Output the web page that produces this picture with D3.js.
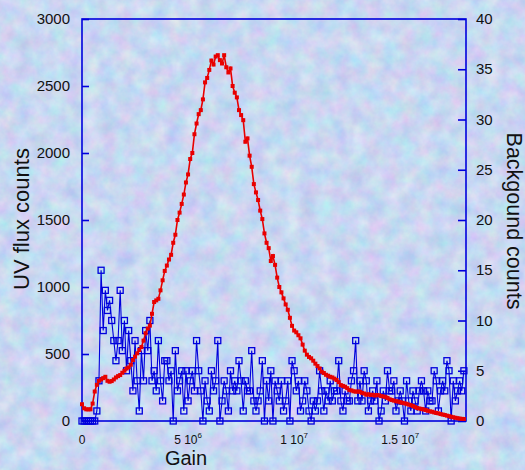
<!DOCTYPE html>
<html lang="en">
<head>
  <meta charset="utf-8">
  <title>UV flux vs Gain</title>
  <style>
    body { margin: 0; }
    text { font-family: "Liberation Sans", Arial, sans-serif; fill: #111; }
  </style>
</head>
<body>
  <div id="chart"></div>

  <script src="https://d3js.org/d3.v7.min.js"></script>
  <script>
    // gain in units of 1e5
    var gain = [
      0,1,2,3,4,5,6,7,8,9,10,11,12,13,14,15,16,17,18,19,
      20,21,22,23,24,25,26,27,28,29,30,31,32,33,34,35,36,37,38,39,
      40,41,42,43,44,45,46,47,48,49,50,51,52,53,54,55,56,57,58,59,
      60,61,62,63,64,65,66,67,68,69,70,71,72,73,74,75,76,77,78,79,
      80,81,82,83,84,85,86,87,88,89,90,91,92,93,94,95,96,97,98,99,
      100,101,102,103,104,105,106,107,108,109,110,111,112,113,114,115,116,117,118,119,
      120,121,122,123,124,125,126,127,128,129,130,131,132,133,134,135,136,137,138,139,
      140,141,142,143,144,145,146,147,148,149,150,151,152,153,154,155,156,157,158,159,
      160,161,162,163,164,165,166,167,168,169,170,171,172,173,174,175,176,177,178,179,180
    ];

    // UV flux counts (left axis)
    var uvFlux = [
      125,95,87,87,87,130,220,270,300,310,
      320,330,300,293,298,310,325,335,343,360,
      375,392,400,420,455,480,505,530,552,600,
      655,690,712,800,888,900,912,975,1050,1120,
      1160,1205,1240,1330,1390,1500,1555,1620,1690,1780,
      1840,1955,2000,2140,2220,2290,2320,2400,2527,2560,
      2620,2690,2660,2720,2730,2693,2668,2730,2640,2601,
      2631,2500,2450,2415,2320,2283,2245,2084,2109,1980,
      1897,1768,1706,1649,1570,1507,1400,1330,1290,1194,
      1231,1165,1070,1000,960,915,870,830,770,710,
      675,662,640,617,570,525,495,478,468,450,
      428,410,392,368,358,345,338,330,325,316,
      306,290,268,262,256,245,232,228,222,219,
      220,218,210,205,196,200,194,196,190,194,
      192,186,183,180,172,162,157,152,148,145,
      140,136,132,128,122,118,112,104,97,93,
      90,86,82,76,72,69,64,60,57,52,
      48,45,40,36,32,28,24,21,18,16,15
    ];

    // background counts (right axis)
    var background = [
      0,0,0,0,0,0,0,1,4,15,
      9,13,11,12,10,8,6,8,13,7,
      10,5,9,6,3,8,4,1,7,4,
      9,7,10,4,5,3,8,4,2,6,
      6,4,5,0,7,3,4,5,1,5,
      2,4,5,3,8,5,3,0,4,2,
      1,5,3,4,8,0,2,4,3,1,
      5,3,4,3,6,4,1,4,3,3,
      7,2,1,2,3,6,0,4,2,5,
      0,4,3,2,4,1,2,4,0,6,
      5,3,4,1,2,4,3,1,0,2,
      1,2,5,3,1,3,2,4,2,3,
      3,6,2,1,3,2,2,4,5,8,
      2,4,2,5,4,1,2,3,2,4,
      0,1,3,2,5,3,3,4,1,2,
      3,2,0,4,2,1,3,2,1,3,
      4,3,1,3,2,2,5,4,1,3,
      4,3,6,5,0,4,2,3,4,3,5
    ];

    var leftTicks = [0, 500, 1000, 1500, 2000, 2500, 3000];
    var rightTicks = [0, 5, 10, 15, 20, 25, 30, 35, 40];
    var xTicks = [
      {v: 0, base: "0", sup: ""},
      {v: 5e6, base: "5 10", sup: "6"},
      {v: 1e7, base: "1 10", sup: "7"},
      {v: 1.5e7, base: "1.5 10", sup: "7"}
    ];

    var width = 525, height = 470;
    var plotL = 82, plotR = 466, plotT = 19, plotB = 421;
    var blue = "#0000dc", red = "#e80000";

    var svg = d3.select("#chart").append("svg")
        .attr("width", width)
        .attr("height", height);

    // mottled pastel background
    var defs = svg.append("defs");
    var f = defs.append("filter").attr("id", "paper")
        .attr("color-interpolation-filters", "sRGB")
        .attr("x", 0).attr("y", 0).attr("width", "100%").attr("height", "100%");
    f.append("feTurbulence")
        .attr("type", "fractalNoise")
        .attr("baseFrequency", 0.06)
        .attr("numOctaves", 4)
        .attr("seed", 7);
    f.append("feColorMatrix")
        .attr("type", "matrix")
        .attr("values", "0.26 0 0 0 0.655  0 0.2 0 0 0.745  0 0 0.08 0 0.905  0 0 0 0 1");

    svg.append("rect")
        .attr("width", width).attr("height", height)
        .attr("fill", "#ccd8f2");
    svg.append("rect")
        .attr("width", width).attr("height", height)
        .attr("filter", "url(#paper)");

    var x = d3.scaleLinear().domain([0, 1.81e7]).range([plotL, plotR]);
    var yL = d3.scaleLinear().domain([0, 3000]).range([plotB, plotT]);
    var yR = d3.scaleLinear().domain([0, 40]).range([plotB, plotT]);

    // axes
    var axL = svg.append("g").attr("transform", "translate(" + plotL + ",0)")
        .call(d3.axisRight(yL).tickValues(leftTicks).tickSize(7).tickFormat(""));
    var axR = svg.append("g").attr("transform", "translate(" + plotR + ",0)")
        .call(d3.axisLeft(yR).tickValues(rightTicks).tickSize(8).tickFormat(""));
    [axL, axR].forEach(function(g) {
      g.select(".domain").remove();
      g.selectAll("line").attr("stroke", blue).attr("stroke-width", 1.6);
    });

    svg.append("rect")
        .attr("x", plotL).attr("y", plotT)
        .attr("width", plotR - plotL).attr("height", plotB - plotT)
        .attr("fill", "none")
        .attr("stroke", blue)
        .attr("stroke-width", 1.6);

    svg.selectAll(".ltick").data(leftTicks).enter().append("text")
        .attr("x", 70).attr("y", function(d) { return yL(d) + 5; })
        .attr("text-anchor", "end")
        .attr("font-size", 15)
        .text(function(d) { return d; });

    svg.selectAll(".rtick").data(rightTicks).enter().append("text")
        .attr("x", 476).attr("y", function(d) { return yR(d) + 5; })
        .attr("font-size", 15)
        .text(function(d) { return d; });

    var xt = svg.selectAll(".xtick").data(xTicks).enter().append("text")
        .attr("x", function(d) { return x(d.v); })
        .attr("y", 444)
        .attr("text-anchor", "middle")
        .attr("font-size", 12);
    xt.append("tspan").text(function(d) { return d.base; });
    xt.append("tspan").attr("dy", -6).attr("font-size", 8).text(function(d) { return d.sup; });

    svg.append("text")
        .attr("x", 186).attr("y", 465)
        .attr("text-anchor", "middle")
        .attr("font-size", 20)
        .text("Gain");

    svg.append("text")
        .attr("transform", "translate(29,219) rotate(-90)")
        .attr("text-anchor", "middle")
        .attr("font-size", 22)
        .text("UV flux counts");

    svg.append("text")
        .attr("transform", "translate(507,221) rotate(90)")
        .attr("text-anchor", "middle")
        .attr("font-size", 21.5)
        .text("Backgound counts");

    // background counts: blue line + open squares
    var bgData = gain.map(function(g, i) { return [g * 1e5, background[i]]; });
    var lineB = d3.line().x(function(d) { return x(d[0]); }).y(function(d) { return yR(d[1]); });
    svg.append("path")
        .attr("d", lineB(bgData))
        .attr("fill", "none")
        .attr("stroke", blue)
        .attr("stroke-width", 1.1);
    svg.selectAll(".bg").data(bgData).enter().append("rect")
        .attr("x", function(d) { return x(d[0]) - 3; })
        .attr("y", function(d) { return yR(d[1]) - 3; })
        .attr("width", 6).attr("height", 6)
        .attr("fill", "none")
        .attr("stroke", blue)
        .attr("stroke-width", 1.3);

    // UV flux: red line + filled squares
    var uvData = gain.map(function(g, i) { return [g * 1e5, uvFlux[i]]; });
    var lineR = d3.line().x(function(d) { return x(d[0]); }).y(function(d) { return yL(d[1]); });
    svg.append("path")
        .attr("d", lineR(uvData))
        .attr("fill", "none")
        .attr("stroke", red)
        .attr("stroke-width", 1.6);
    svg.selectAll(".uv").data(uvData).enter().append("rect")
        .attr("x", function(d) { return x(d[0]) - 2; })
        .attr("y", function(d) { return yL(d[1]) - 2; })
        .attr("width", 4).attr("height", 4)
        .attr("fill", red);
  </script>
</body>
</html>
